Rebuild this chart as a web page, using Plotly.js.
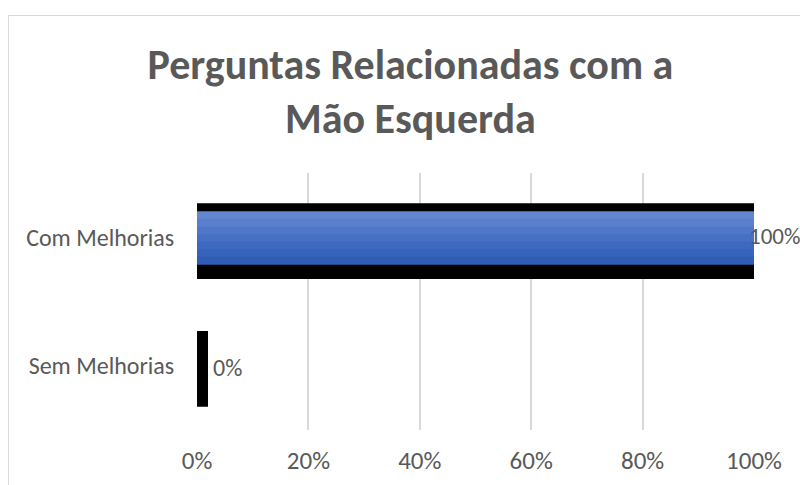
<!DOCTYPE html>
<html>
<head>
<meta charset="utf-8">
<script src="https://cdn.plot.ly/plotly-3.0.1.min.js"></script>
<style>
  html, body { margin: 0; padding: 0; background: #ffffff; }
  #chart { width: 800px; height: 485px; position: relative; }
  #frame { position: absolute; left: 8px; top: 15px; width: 900px; height: 600px;
           border-left: 1.5px solid #d9d9d9; border-top: 1.5px solid #d9d9d9;
           pointer-events: none; z-index: 5; }
</style>
</head>
<body>
<div id="chart"></div>
<div id="frame"></div>
<script>
// ---- data ----
const categories = ['Com Melhorias', 'Sem Melhorias'];
const values = [100, 0];          // percent
const labels = ['100%', '0%'];
const titleText = 'Perguntas Relacionadas com a<br>Mão Esquerda';
const xTickVals = [0, 20, 40, 60, 80, 100];
const xTickText = ['0%', '20%', '40%', '60%', '80%', '100%'];

// ---- styling ----
const FONT = 'Carlito, Lato, "Open Sans", sans-serif';
const TEXT = '#595959';

const traces = [];
// black outline bar (behind)
traces.push({
  type: 'bar', orientation: 'h',
  x: values, y: categories,
  width: [0.56, 0.59],
  offset: [-0.25, -0.27],
  marker: { color: '#000000', line: { color: '#000000', width: [4, 22] } },
  hoverinfo: 'skip', showlegend: false
});
// blue gradient fill drawn as thin slices
const sliceColors = ['#6286cf', '#5a7fcc', '#5078c8', '#4670c4', '#3e69c0', '#3663bb', '#2f5db6'];
const blueStart = -0.202, blueWidth = 0.412;
const n = sliceColors.length;
for (let i = 0; i < n; i++) {
  traces.push({
    type: 'bar', orientation: 'h',
    x: values, y: categories,
    width: blueWidth / n + 0.004,
    offset: blueStart + i * blueWidth / n,
    marker: { color: sliceColors[i], line: { width: 0 } },
    hoverinfo: 'skip', showlegend: false
  });
}

const annotations = categories.map((c, i) => ({
  x: values[i], y: c, xref: 'x', yref: 'y',
  text: labels[i], showarrow: false,
  xanchor: 'left', yanchor: 'middle',
  xshift: i === 0 ? -7 : 14,
  yshift: i === 0 ? 1 : -2,
  font: { family: FONT, size: i === 0 ? 23 : 24, color: TEXT }
}));

const layout = {
  width: 800, height: 485,
  margin: { l: 197, r: 46, t: 173, b: 55 },
  paper_bgcolor: 'rgba(0,0,0,0)', plot_bgcolor: '#ffffff',
  barmode: 'overlay',
  bargap: 0.4,
  showlegend: false,
  title: {
    text: titleText,
    font: { family: FONT, size: 42, color: TEXT, weight: 'bold' },
    x: 0.513, xanchor: 'center',
    y: 0.838, yanchor: 'middle'
  },
  xaxis: {
    range: [0, 100], tickvals: xTickVals, ticktext: xTickText,
    showgrid: true, gridcolor: '#d9d9d9', gridwidth: 2,
    zeroline: false, showline: false,
    ticks: 'outside', ticklen: 8, tickcolor: 'rgba(0,0,0,0)',
    tickfont: { family: FONT, size: 25, color: TEXT },
    fixedrange: true
  },
  yaxis: {
    type: 'category', autorange: 'reversed',
    showgrid: false, zeroline: false, showline: false,
    ticks: 'outside', ticklen: 17, tickcolor: 'rgba(0,0,0,0)',
    tickfont: { family: FONT, size: 24, color: TEXT },
    fixedrange: true
  },
  annotations: annotations
};

Plotly.newPlot('chart', traces, layout, { staticPlot: true, displayModeBar: false });
</script>
</body>
</html>
